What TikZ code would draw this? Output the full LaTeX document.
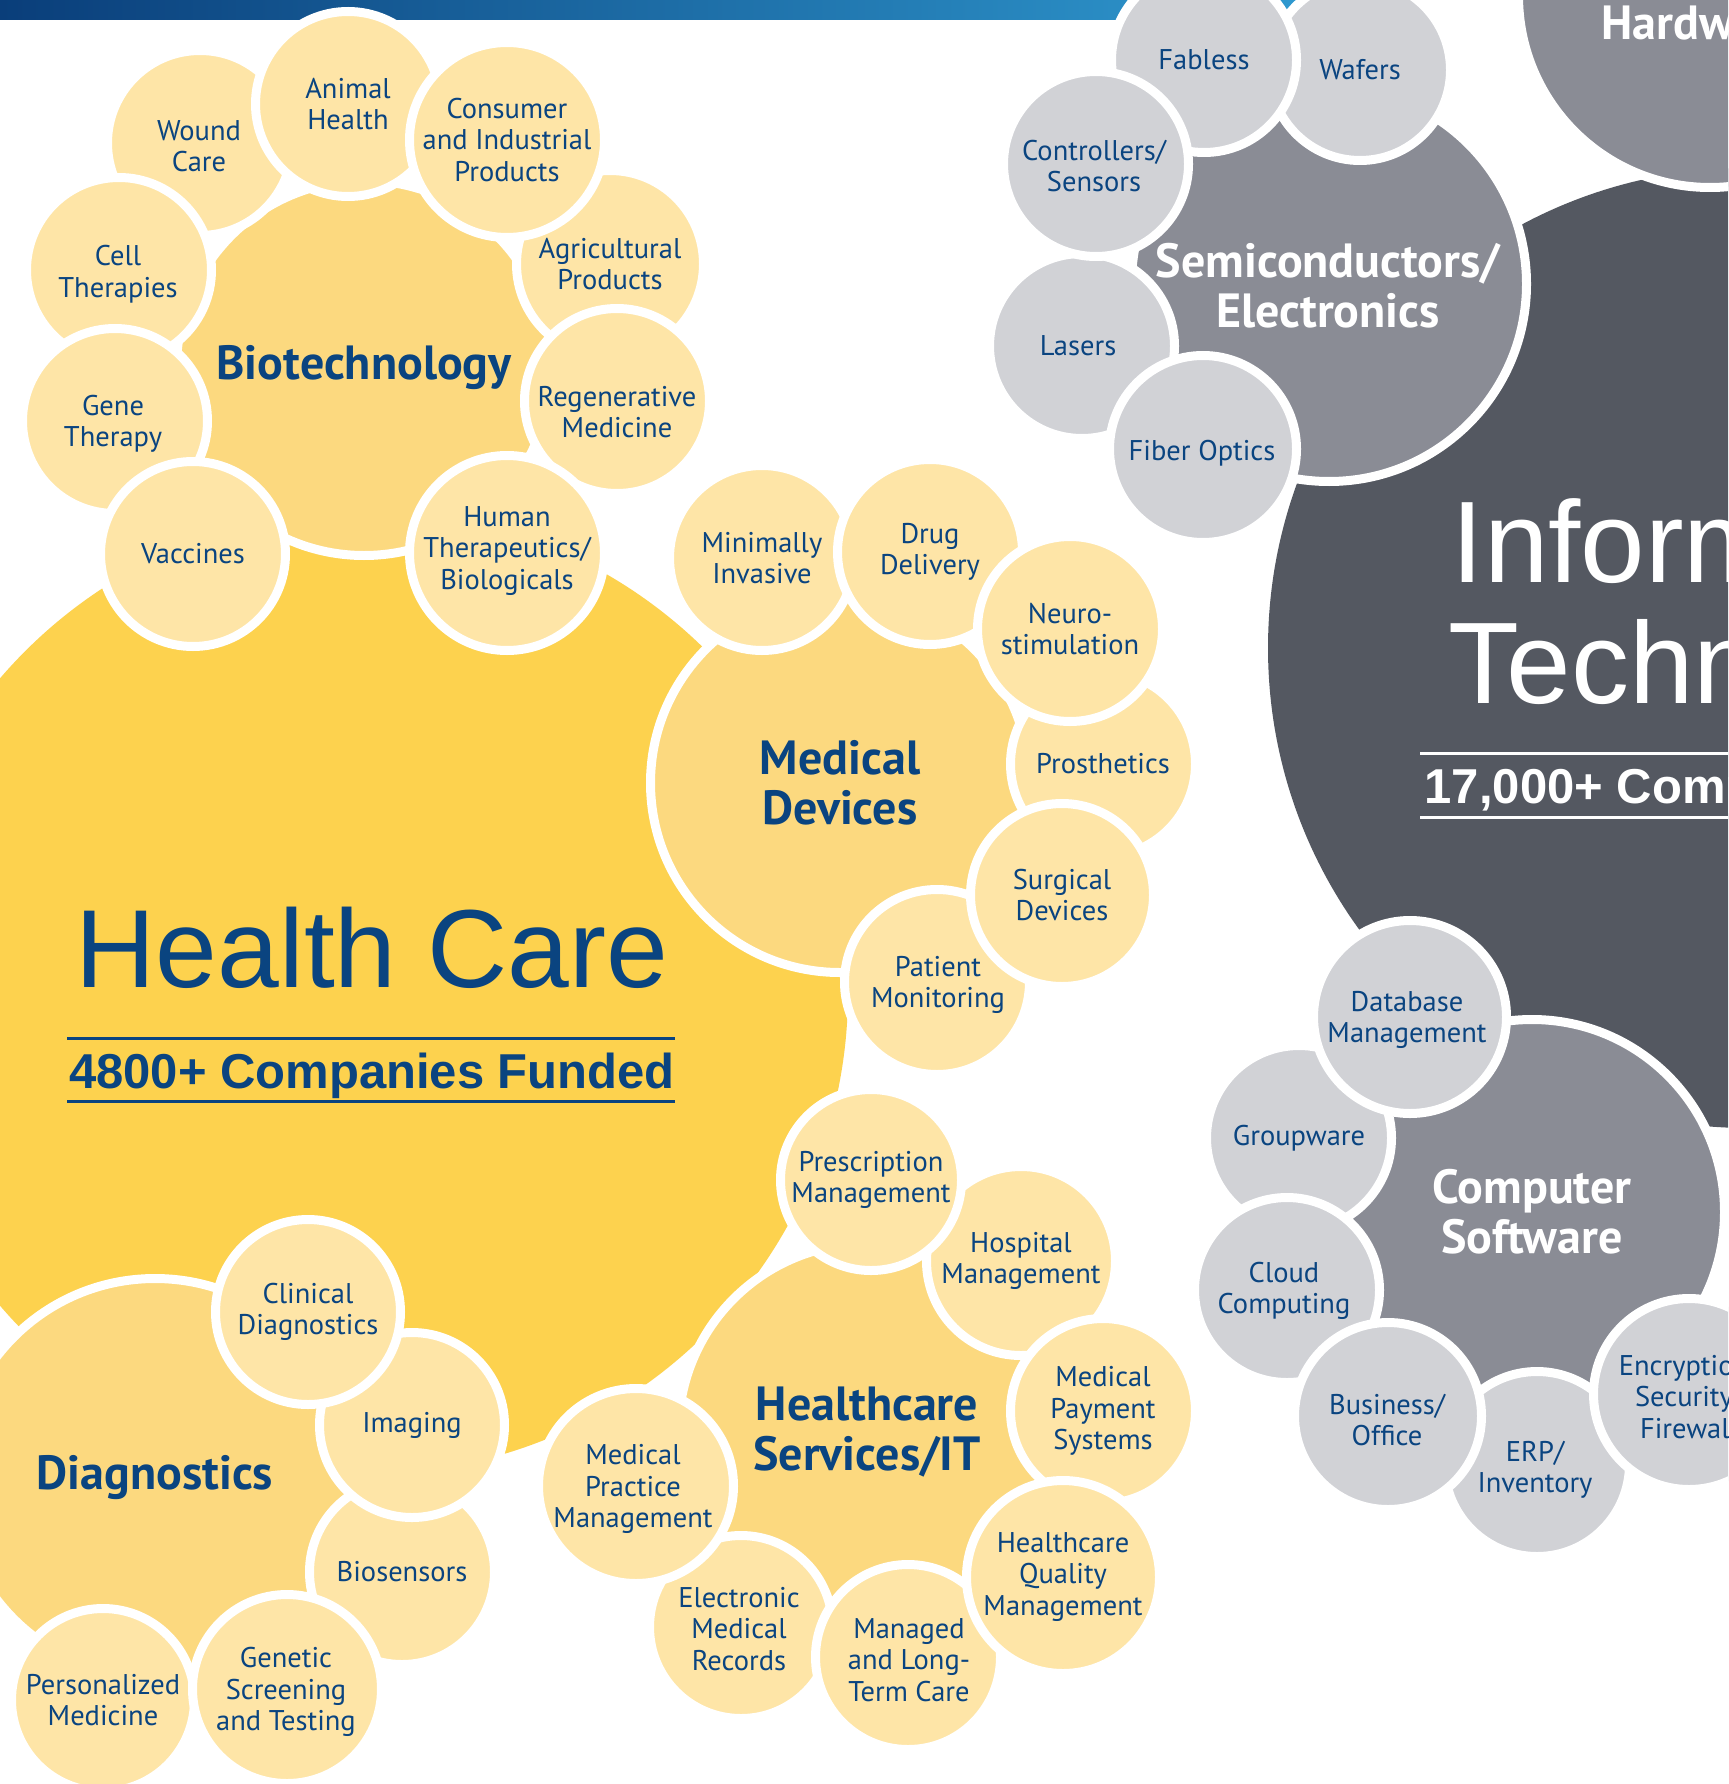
\documentclass[tikz,border=0pt]{standalone}
\usepackage{fontspec}
\setmainfont{PT Sans}
\newfontfamily\arialf{Liberation Sans}
\definecolor{navy}{RGB}{10,68,128}
\definecolor{hcY}{RGB}{253,210,78}
\definecolor{yMed}{RGB}{252,217,127}
\definecolor{ySm}{RGB}{254,229,167}
\definecolor{itD}{RGB}{84,88,97}
\definecolor{gMed}{RGB}{138,140,149}
\definecolor{gSm}{RGB}{209,210,214}
\definecolor{barL}{RGB}{10,62,122}
\definecolor{barR}{RGB}{50,160,214}
\tikzset{
  every node/.style={inner sep=0pt,outer sep=0pt},
  disc/.style={circle,draw=white,line width=9pt},
  ymed/.style={disc,fill=yMed},
  ysm/.style={disc,fill=ySm,minimum size=185pt},
  gmed/.style={disc,fill=gMed},
  gsm/.style={disc,fill=gSm,minimum size=185pt},
  smtxt/.style={align=center,text=navy,font=\fontsize{28.5}{31.5}\selectfont},
  medtxt/.style={align=center,text=navy,font=\bfseries\fontsize{48}{50}\selectfont},
  gmedtxt/.style={medtxt,text=white},
  bigtxt/.style={text=white,font=\arialf\fontsize{116}{120}\selectfont},
  hctxt/.style={text=navy,font=\arialf\fontsize{111}{115}\selectfont},
  cnttxt/.style={font=\arialf\bfseries\fontsize{49}{52}\selectfont},
  rule/.style={line width=3pt},
}
\begin{document}
\begin{tikzpicture}[x=1pt,y=-1pt]
\useasboundingbox (0,0) rectangle (1728,1784);
\clip (0,0) rectangle (1728,1784);
\fill[white] (0,0) rectangle (1728,1784);
\shade[left color=barL,right color=barR] (0,0) rectangle (1400,20);

% big sectors
\node[circle,fill=hcY,minimum size=964pt] (hc) at (366,992) {};
\node[circle,fill=itD,minimum size=960pt] (it) at (1748,648) {};
\node[gmed,minimum size=383pt] (hw) at (1710,-4) {};
\node[gmedtxt,anchor=base] (hwT) at (1700,40) {Hardware};

% ---------- Biotechnology ----------
\node[ymed,minimum size=375pt] (bio) at (364,368) {};
\node[medtxt] (bioT) at (bio) {Biotechnology};
\node[ysm] (wound) at (200,143) {};
\node[smtxt] (woundT) at (199,146) {Wound\\Care};
\node[ysm] (cell) at (119,270) {};
\node[smtxt] (cellT) at (118,274) {Cell\\Therapies};
\node[ysm] (gene) at (115,421) {};
\node[smtxt] (geneT) at (113,424) {Gene\\Therapy};
\node[ysm] (vacc) at (193,554) {};
\node[smtxt] (vaccT) at (vacc) {Vaccines};
\node[ysm] (animal) at (348,104) {};
\node[smtxt] (animalT) at (animal) {Animal\\Health};
\node[ysm,minimum size=187pt] (agri) at (610,264) {};
\node[smtxt] (agriT) at (agri) {Agricultural\\Products};
\node[ysm,minimum size=195pt] (cons) at (507,140) {};
\node[smtxt] (consT) at (cons) {Consumer\\and Industrial\\Products};
\node[ysm] (regen) at (617,401) {};
\node[smtxt] (regenT) at (617,412) {Regenerative\\Medicine};
\node[ysm,minimum size=195pt] (human) at (507,553) {};
\node[smtxt] (humanT) at (507,551) {Human\\Therapeutics/\\Biologicals};

% ---------- Medical Devices ----------
\node[ymed,minimum size=379pt] (md) at (840,783) {};
\node[medtxt] (mdT) at (md) {Medical\\Devices};
\node[ysm] (mini) at (762,558) {};
\node[smtxt] (miniT) at (mini) {Minimally\\Invasive};
\node[ysm] (drug) at (930,552) {};
\node[smtxt] (drugT) at (drug) {Drug\\Delivery};
\node[ysm] (pros) at (1103,764) {};
\node[smtxt] (prosT) at (pros) {Prosthetics};
\node[ysm] (neuro) at (1070,629) {};
\node[smtxt] (neuroT) at (neuro) {Neuro-\\stimulation};
\node[ysm] (pat) at (937,982) {};
\node[smtxt] (patT) at (938,985) {Patient\\Monitoring};
\node[ysm,minimum size=183pt] (surg) at (1062,895) {};
\node[smtxt] (surgT) at (surg) {Surgical\\Devices};

% ---------- Healthcare Services/IT ----------
\node[ymed,minimum size=377pt] (hcs) at (867,1432) {};
\node[medtxt] (hcsT) at (hcs) {Healthcare\\Services/IT};
\node[ysm,minimum size=189pt] (hosp) at (1021,1261) {};
\node[smtxt] (hospT) at (hosp) {Hospital\\Management};
\node[ysm,minimum size=181pt] (presc) at (871,1180) {};
\node[smtxt] (prescT) at (presc) {Prescription\\Management};
\node[ysm] (pay) at (1103,1411) {};
\node[smtxt] (payT) at (pay) {Medical\\Payment\\Systems};
\node[ysm,minimum size=183pt] (emr) at (741,1627) {};
\node[smtxt] (emrT) at (739,1629) {Electronic\\Medical\\Records};
\node[ysm] (managed) at (908,1657) {};
\node[smtxt] (managedT) at (909,1660) {Managed\\and Long-\\Term Care};
\node[ysm,minimum size=193pt] (qual) at (1063,1577) {};
\node[smtxt] (qualT) at (qual) {Healthcare\\Quality\\Management};
\node[ysm,minimum size=195pt] (prac) at (636,1486) {};
\node[smtxt] (pracT) at (633,1489) {Medical\\Practice\\Management};

% ---------- Diagnostics ----------
\node[ymed,minimum size=399pt] (diag) at (155,1478) {};
\node[medtxt] (diagT) at (diag) {Diagnostics};
\node[ysm,minimum size=183pt] (pers) at (103,1700) {};
\node[smtxt] (persT) at (pers) {Personalized\\Medicine};
\node[ysm] (biosens) at (402,1572) {};
\node[smtxt] (biosensT) at (biosens) {Biosensors};
\node[ysm,minimum size=189pt] (genet) at (287,1689) {};
\node[smtxt] (genetT) at (286,1692) {Genetic\\Screening\\and Testing};
\node[ysm] (imag) at (412,1425) {};
\node[smtxt] (imagT) at (imag) {Imaging};
\node[ysm] (clin) at (308,1312) {};
\node[smtxt] (clinT) at (clin) {Clinical\\Diagnostics};

% ---------- Semiconductors/Electronics ----------
\node[gmed,minimum size=395pt] (semi) at (1329,284) {};
\node[gmedtxt] (semiT) at (1328,286) {Semiconductors/\\Electronics};
\node[gsm,minimum size=181pt] (wafer) at (1360,70) {};
\node[smtxt] (waferT) at (wafer) {Wafers};
\node[gsm] (fab) at (1204,60) {};
\node[smtxt] (fabT) at (fab) {Fabless};
\node[gsm] (laser) at (1082,346) {};
\node[smtxt] (laserT) at (1078,346) {Lasers};
\node[gsm] (ctrl) at (1096,164) {};
\node[smtxt] (ctrlT) at (1094,166) {Controllers/\\Sensors};
\node[gsm,minimum size=187pt] (fiber) at (1203,449) {};
\node[smtxt] (fiberT) at (1202,453) {Fiber Optics};

% ---------- Computer Software ----------
\node[gmed,minimum size=385pt] (soft) at (1532,1212) {};
\node[gmedtxt] (softT) at (soft) {Computer\\Software};
\node[gsm] (group) at (1299,1138) {};
\node[smtxt] (groupT) at (group) {Groupware};
\node[gsm] (cloud) at (1287,1290) {};
\node[smtxt] (cloudT) at (1284,1291) {Cloud\\Computing};
\node[gsm] (erp) at (1537,1464) {};
\node[smtxt] (erpT) at (1535,1470) {ERP/\\Inventory};
\node[gsm,minimum size=187pt] (bus) at (1388,1416) {};
\node[smtxt] (busT) at (1387,1420) {Business/\\Office};
\node[gsm,minimum size=193pt] (db) at (1410,1017) {};
\node[smtxt] (dbT) at (1407,1020) {Database\\Management};
\node[gsm,minimum size=191pt] (enc) at (1689,1394) {};
\node[smtxt] (encT) at (1689,1397) {Encryption/\\Security/\\Firewall};

% ---------- sector titles ----------
\node[hctxt,anchor=base] (hcT) at (372,987) {Health Care};
\draw[navy,rule] (67,1038) -- (675,1038);
\node[cnttxt,text=navy,anchor=base] (hcN) at (372,1088) {4800+ Companies Funded};
\draw[navy,rule] (67,1101) -- (675,1101);

\node[bigtxt,anchor=base] (itT1) at (1742,582) {Information};
\node[bigtxt,anchor=base] (itT2) at (1742,703) {Technology};
\draw[white,rule] (1420,753) -- (2076,753);
\node[cnttxt,text=white,anchor=base] (itN) at (1748,803) {17,000+ Companies Funded};
\draw[white,rule] (1420,817) -- (2076,817);
\end{tikzpicture}
\end{document}
